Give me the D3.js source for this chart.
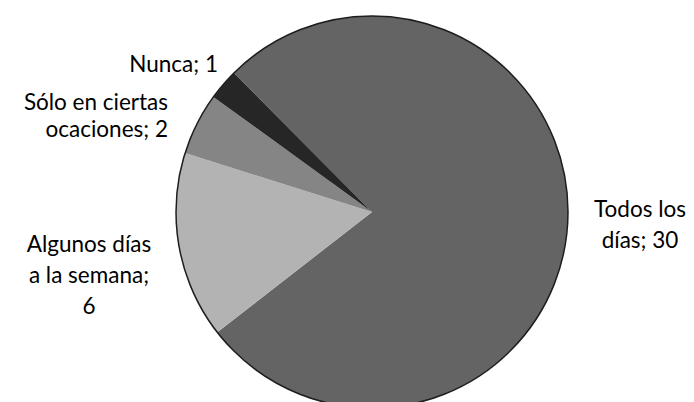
<!DOCTYPE html>
<html>
<head>
<meta charset="utf-8">
<script src="https://cdn.jsdelivr.net/npm/d3@7"></script>
<style>
  body { margin: 0; background: #fff; }
  text { font-family: Lato, "Open Sans", sans-serif; fill: #000; }
</style>
</head>
<body>
<div id="chart"></div>
<script>
const categories = ["Todos los días", "Algunos días a la semana", "Sólo en ciertas ocasiones", "Nunca"];
const values = [30, 6, 2, 1];
const labelLines = [
  ["Todos los", "días; 30"],
  ["Algunos días", "a la semana;", "6"],
  ["Sólo en ciertas", "ocaciones; 2"],
  ["Nunca; 1"]
];

const colors = ["#646464", "#b3b3b3", "#858585", "#262626"];

// label placement (x, first baseline, line step, anchor)
const labelPos = [
  { x: 640, y: 217, step: 31, anchor: "middle" },
  { x: 89, y: 252, step: 31, anchor: "middle" },
  { x: 168, y: 109.5, step: 27.5, anchor: "end" },
  { x: 218, y: 72, step: 27, anchor: "end" }
];

const width = 694, height = 402;
const cx = 372, cy = 212, radius = 196;

const svg = d3.select("#chart").append("svg")
  .attr("width", width)
  .attr("height", height);

const pie = d3.pie()
  .sort(null)
  .value(d => d)
  .startAngle(-44.8 * Math.PI / 180)
  .endAngle((360 - 44.8) * Math.PI / 180);

const arc = d3.arc().innerRadius(0).outerRadius(radius);

const g = svg.append("g").attr("transform", `translate(${cx}, ${cy})`);

g.selectAll("path.slice")
  .data(pie(values))
  .enter()
  .append("path")
  .attr("class", "slice")
  .attr("d", arc)
  .attr("fill", (d, i) => colors[i]);

// outer rim
g.append("circle")
  .attr("r", radius)
  .attr("fill", "none")
  .attr("stroke", "#1e1e1e")
  .attr("stroke-width", 1.5);

labelLines.forEach((lines, i) => {
  const p = labelPos[i];
  const t = svg.append("text")
    .attr("text-anchor", p.anchor)
    .attr("font-size", "22.5px");
  lines.forEach((line, j) => {
    t.append("tspan")
      .attr("x", p.x)
      .attr("y", p.y + j * p.step)
      .text(line);
  });
});
</script>
</body>
</html>
